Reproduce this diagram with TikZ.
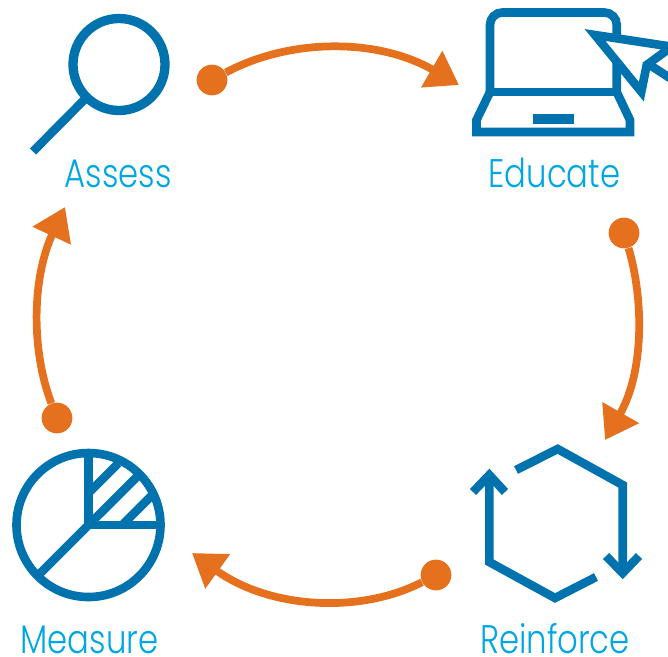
\documentclass[tikz,border=0pt]{standalone}
\usepackage{fontspec}
\setmainfont{Poppins Light}[FakeStretch=0.81]
\usetikzlibrary{arrows.meta}
\definecolor{iconblue}{HTML}{0072AE}
\definecolor{floworange}{HTML}{E5711E}
\definecolor{labelcyan}{HTML}{00A6E3}
\tikzset{
  icon/.style={draw=iconblue,line width=4.9pt,miter limit=10},
  dotmark/.style={circle,fill=floworange,inner sep=0pt,minimum size=17.5pt},
  flow/.style={draw=floworange,line width=4.4pt,-{Triangle[length=18pt,width=23pt]}},
  steplabel/.style={text=labelcyan,anchor=base,inner sep=0pt,font=\fontsize{22.7}{23}\selectfont}
}
\begin{document}
\begin{tikzpicture}[x=0.02cm,y=-0.02cm]
\useasboundingbox (0,0) rectangle (668,656);
% magnifier
\draw [icon,line width=5.3pt] (119,64.5) circle (46);
\draw [icon] (85,99) -- (33,151.5);
\node [steplabel] (assess) at (118,187) {Assess};
% laptop
\draw [icon,rounded corners=7pt] (490,92) -- (490,12.5) -- (616.7,12.5) -- (616.7,92);
\draw [icon] (490,92) -- (616.7,92);
\draw [icon] (490,92) -- (476.5,120) -- (476.5,132) -- (630,132) -- (630,120) -- (616.7,92);
\fill [iconblue] (533.3,114.3) rectangle (573.7,123.7);
\begin{scope}
\clip (0,0) rectangle (668,656);
\draw [icon,fill=white] (595,35) -- (671.7,46.7) -- (646.7,65) -- (641.3,91.7) -- cycle;
\draw [icon] (646.7,63) -- (673,80);
\end{scope}
\node [steplabel] (educate) at (554.5,187) {Educate};
% recycle
\draw [icon] (489.3,475) -- (489.3,562) -- (555,598) -- (596,577);
\draw [icon] (473,492) -- (489.3,475) -- (505,492);
\draw [icon] (516,470) -- (557.7,449) -- (622.7,485) -- (622.7,572);
\draw [icon] (606,556) -- (622.7,573) -- (639,556);
\node [steplabel] (reinforce) at (555,653) {Reinforce};
% pie
\draw [icon] (88.5,525) circle (72);
\draw [icon] (88.5,453) -- (88.5,525) -- (160.5,525);
\draw [icon] (88.5,525) -- (37.5,576);
\draw [icon] (88.3,493.3) -- (118.3,463.3);
\draw [icon] (88.3,525.3) -- (138.3,475.5);
\draw [icon] (123.3,524) -- (153.3,494);
\node [steplabel] (measure) at (89.5,653) {Measure};
% flow
\node [dotmark] (assessdot) at (212,80) {};
\node [dotmark] (educatedot) at (624,233) {};
\node [dotmark] (reinforcedot) at (436,575) {};
\node [dotmark] (measuredot) at (57,418) {};
\coordinate (educateend) at (459,85);
\coordinate (reinforceend) at (605,440);
\coordinate (measureend) at (192,553);
\coordinate (assessend) at (65,207);
\draw [flow] (assessdot) .. controls (290,38) and (378,38) .. (educateend);
\draw [flow] (educatedot) .. controls (644,300) and (644,372) .. (reinforceend);
\draw [flow] (reinforcedot) .. controls (360,614) and (270,609) .. (measureend);
\draw [flow] (measuredot) .. controls (31,350) and (32,278) .. (assessend);
\end{tikzpicture}
\end{document}
